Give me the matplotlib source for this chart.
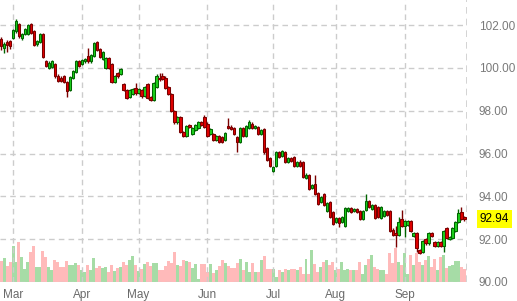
import matplotlib
matplotlib.use("Agg")
import matplotlib.pyplot as plt
import numpy as np

# ---- data ----
opens = [101.35,100.95,101.20,101.25,101.40,101.70,102.05,101.40,101.60,101.60,
         102.05,101.70,101.10,101.20,101.60,100.30,100.00,100.05,100.20,99.60,
         99.55,99.60,99.35,98.98,99.53,99.80,100.30,100.20,100.30,100.55,
         100.30,100.55,101.20,100.90,100.40,100.00,100.45,100.20,99.35,99.75,
         99.70,99.25,98.97,98.65,98.80,99.05,98.85,98.95,98.70,99.25,
         98.65,98.50,99.10,99.55,99.60,99.55,99.10,98.80,98.00,97.45,
         97.70,97.00,96.80,97.35,96.90,97.10,97.20,97.45,97.70,97.40,
         96.90,96.90,96.65,96.80,96.75,96.65,97.30,97.25,97.20,96.75,
         96.55,97.20,96.80,97.20,97.40,97.20,97.25,96.90,97.15,96.25,
         95.80,95.20,95.40,96.05,95.90,96.05,95.60,95.80,95.85,95.40,
         95.60,95.60,94.85,95.00,94.40,94.60,94.15,93.75,94.10,93.30,
         93.75,93.25,92.80,93.00,92.80,92.60,93.30,93.45,93.30,93.40,
         93.30,92.95,93.35,93.80,93.40,93.60,93.50,93.00,93.10,93.30,
         93.30,92.45,92.30,92.20,92.95,92.60,92.65,92.85,92.15,92.30,
         91.50,91.40,92.00,91.80,92.30,91.85,91.70,91.85,91.70,92.50,
         92.00,92.05,92.40,92.80,93.25,93.05]
highs = [101.45,101.20,101.30,101.30,101.80,102.28,102.10,101.65,101.85,102.05,
         102.10,101.75,101.30,101.65,101.65,100.35,100.30,100.35,100.25,99.70,
         99.60,99.65,99.40,99.60,99.90,100.35,100.35,100.40,100.45,100.95,
         100.65,101.20,101.25,100.95,100.80,100.50,100.50,100.25,99.65,99.80,
         100.00,99.30,99.00,99.00,99.05,99.30,99.05,99.00,99.15,99.30,
         98.70,99.35,99.70,99.75,99.75,99.60,99.15,98.85,98.05,97.75,
         97.75,97.05,97.35,97.40,97.25,97.40,97.50,97.50,97.80,97.45,
         97.20,96.95,96.85,96.85,96.80,97.00,97.65,97.35,97.25,96.80,
         97.25,97.25,97.35,97.55,97.45,97.35,97.30,97.15,97.20,96.30,
         95.85,95.40,96.10,96.10,96.15,96.10,95.85,95.85,95.90,95.65,
         95.70,95.65,95.10,95.05,94.60,95.00,94.20,94.00,94.15,93.75,
         93.80,93.30,93.05,93.05,93.10,93.50,93.50,93.50,93.45,93.45,
         93.35,93.35,94.10,93.85,93.65,93.65,93.55,93.55,93.35,93.35,
         93.35,92.50,92.60,93.05,93.35,92.90,92.90,92.90,92.35,92.35,
         91.55,91.95,92.05,92.35,92.35,91.90,91.90,91.90,92.45,92.55,
         92.15,92.55,92.85,93.40,93.50,93.10]
lows = [100.85,100.70,100.75,100.90,101.35,101.65,101.40,101.30,101.55,101.55,
        101.60,101.00,101.00,101.15,100.45,100.05,99.95,100.00,99.55,99.35,
        99.35,99.30,98.65,98.90,99.50,99.75,100.05,100.15,100.25,100.25,
        100.25,100.50,100.80,100.45,100.35,99.95,99.95,99.30,99.30,99.55,
        99.65,98.90,98.55,98.60,98.75,98.75,98.80,98.60,98.65,98.55,
        98.45,98.45,99.05,99.40,99.45,99.00,98.75,97.95,97.40,97.40,
        96.95,96.75,96.75,97.20,96.85,97.05,97.15,97.30,97.20,96.75,
        96.85,96.60,96.60,96.50,96.50,96.60,97.15,97.10,96.85,96.05,
        96.50,96.75,96.75,97.15,97.15,97.15,96.85,96.85,96.00,95.65,
        95.35,95.15,95.35,95.80,95.85,95.55,95.55,95.60,95.35,95.35,
        95.35,94.85,94.80,94.30,94.35,94.05,93.60,93.70,93.55,93.25,
        93.00,92.65,92.75,92.55,92.75,92.55,93.25,93.20,93.25,93.20,
        92.90,92.90,93.30,93.45,93.35,92.95,93.00,92.95,93.05,93.10,
        92.35,92.15,91.65,92.15,92.55,92.10,92.60,92.35,92.10,91.40,
        91.30,91.35,91.75,91.75,92.10,91.65,91.65,91.65,91.40,92.00,
        91.95,92.00,92.35,92.75,92.90,92.85]
closes = [101.00,101.10,101.05,101.00,101.77,102.20,101.50,101.60,101.80,102.00,
          101.65,101.07,101.25,101.60,100.50,100.10,100.25,100.30,99.60,99.40,
          99.40,99.35,98.90,99.58,99.86,100.30,100.10,100.35,100.40,100.30,
          100.60,101.15,100.85,100.50,100.75,100.45,100.00,99.35,99.60,99.60,
          99.95,98.97,98.60,98.95,99.00,98.85,99.00,98.70,99.10,98.60,
          98.50,99.30,99.60,99.50,99.50,99.05,98.80,98.00,97.45,97.70,
          97.00,96.80,97.30,97.25,97.20,97.35,97.45,97.35,97.25,96.80,
          97.15,96.65,96.80,96.55,96.55,96.95,97.20,97.15,96.90,96.55,
          97.20,96.80,97.30,97.45,97.20,97.30,96.90,97.10,96.05,95.70,
          95.40,95.35,96.05,95.85,96.10,95.60,95.80,95.65,95.40,95.60,
          95.40,94.90,95.00,94.35,94.55,94.10,93.65,93.95,93.60,93.70,
          93.05,92.70,93.00,92.75,93.05,93.45,93.45,93.25,93.40,93.25,
          92.95,93.30,93.80,93.50,93.60,93.00,93.05,93.50,93.30,93.15,
          92.40,92.20,92.20,92.80,92.60,92.85,92.85,92.40,92.30,91.60,
          91.35,91.90,91.80,92.30,92.15,91.70,91.85,91.70,92.40,92.05,
          92.10,92.50,92.80,93.20,92.95,92.94]
volume = [21,24,16,20,36,20,40,25,13,20,30,36,15,15,31,25,15,12,22,20,
          15,15,21,17,17,19,17,12,10,17,12,24,14,16,14,15,10,17,11,14,
          15,20,17,22,26,17,11,13,18,20,16,19,19,12,12,16,21,19,30,17,
          16,22,21,20,14,18,3,18,18,10,18,9,12,16,22,19,16,14,14,19,
          23,12,20,10,19,10,10,
          22,26,13,13,13,5,12,10,13,12,13,13,12,15,8,23,8,32,18,10,
          15,20,22,17,20,12,13,20,12,13,12,12,12,20,8,17,23,27,15,13,
          12,12,8,29,19,34,20,17,29,8,27,17,29,20,17,22,26,15,23,12,
          25,27,14,16,17,21,21,15,13]
month_labels = ["Mar", "Apr", "May", "Jun", "Jul", "Aug", "Sep"]
month_start_idx = [4, 27, 46, 69, 91, 112, 135]
price_ticks = [90, 92, 94, 96, 98, 100, 102]
last_price = closes[-1]

# ---- figure ----
W, H = 517, 301
fig = plt.figure(figsize=(W / 100, H / 100), dpi=100)
plt.rcParams['font.family'] = ['Liberation Sans', 'DejaVu Sans']
ax = fig.add_axes([0, 19 / H, 467 / W, 282 / H])

n = len(closes)
x = np.arange(n)
o = np.array(opens); c = np.array(closes)
hi = np.array(highs); lo = np.array(lows)
up = c >= o

grid_col = '#cccccc'
dash = (0, (4, 3))

# volume on a twin axis
vax = ax.twinx()
vax.set_ylim(0, max(volume) * 7.05)
vcols = np.where(up, '#a6dca6', '#ffbaba')
vax.bar(x, volume, width=1.0, color=vcols, linewidth=0, zorder=1)
vax.set_yticks([])
for s in vax.spines.values():
    s.set_visible(False)
ax.set_zorder(vax.get_zorder() + 1)
ax.patch.set_visible(False)

# candles
up_fill, up_edge = '#1ccf1c', '#006400'
dn_fill, dn_edge = '#e00000', '#7a0000'
ax.vlines(x[up], lo[up], hi[up], color=up_edge, linewidth=1.0, zorder=3)
ax.vlines(x[~up], lo[~up], hi[~up], color=dn_edge, linewidth=1.0, zorder=3)
body_bottom = np.minimum(o, c)
body_h = np.maximum(np.abs(c - o), 0.03)
ax.bar(x[up], body_h[up], bottom=body_bottom[up], width=0.8,
       color=up_fill, edgecolor=up_edge, linewidth=0.75, zorder=4)
ax.bar(x[~up], body_h[~up], bottom=body_bottom[~up], width=0.8,
       color=dn_fill, edgecolor=dn_edge, linewidth=0.75, zorder=4)

ax.set_xlim(-0.35, n - 0.15)
ax.set_ylim(90.0, 103.17)
vax.set_xlim(ax.get_xlim())

# grid
for p in price_ticks:
    ax.axhline(p, color=grid_col, linestyle=dash, linewidth=1, zorder=0)
for m in month_start_idx:
    ax.axvline(m, color=grid_col, linestyle=dash, linewidth=1, zorder=0)

for name, s in ax.spines.items():
    s.set_visible(False)
ax.axvline(ax.get_xlim()[1], color=grid_col, linestyle=dash, linewidth=1.2, zorder=0)

# ticks
ax.yaxis.tick_right()
ax.set_yticks(price_ticks)
ax.set_yticklabels([f"{p:.2f}" for p in price_ticks])
ax.tick_params(axis='y', length=0, pad=8.5, labelsize=8.5, labelcolor='#7a7a7a')
ax.set_xticks(month_start_idx)
ax.set_xticklabels(month_labels)
ax.tick_params(axis='x', length=0, pad=5, labelsize=8.5, labelcolor='#6a6a6a')

# last price label
ax.annotate(f"{last_price:.2f}", xy=(1, last_price), xycoords=('axes fraction', 'data'),
            xytext=(9, 0), textcoords='offset points', ha='left', va='center',
            fontsize=8.5, color='black',
            bbox=dict(boxstyle='square,pad=0.25', fc='#ffff00', ec='none'))

fig.savefig('out.png', dpi=100)
